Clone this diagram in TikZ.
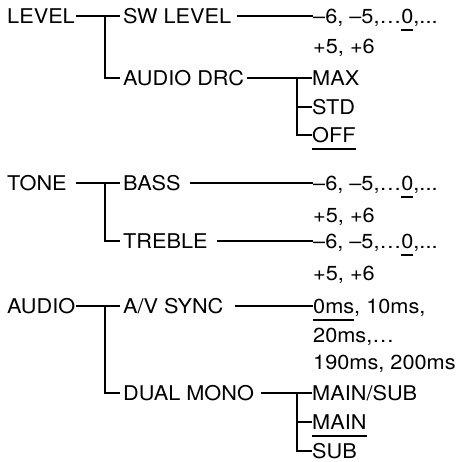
\documentclass[tikz,border=0pt]{standalone}
\usepackage{fontspec}
\setmainfont[FakeStretch=1.07]{TeX Gyre Heros}
\newcommand{\myul}[1]{\setbox0\hbox{#1}\rlap{\rule[-7.5pt]{\wd0}{1.5pt}}\box0}
\tikzset{
  lbl/.style={anchor=west, inner xsep=0pt, inner ysep=0pt, text height=14.6pt, text depth=0pt,
              font=\fontsize{20.3}{24}\selectfont},
  rootlbl/.style={lbl, text width=69pt},
  link/.style={line width=1.6pt},
}
\begin{document}
\begin{tikzpicture}[x=1pt,y=-1pt]
\useasboundingbox (0,0) rectangle (462,462);
% ---- LEVEL
\node[rootlbl] (level) at (7,16) {LEVEL};
\node[lbl] (sw) at (123,16) {SW LEVEL};
\node[lbl] (drc) at (123,78) {AUDIO DRC};
\node[lbl] (v1) at (313,16) {–6, –5,…\myul{0},...};
\node[lbl] (v1b) at (313,46) {+5, +6};
\node[lbl] (max) at (312,78) {MAX};
\node[lbl] (std) at (312,107) {STD};
\node[lbl] (off) at (312,135) {\myul{OFF}};
\coordinate (j1) at (105,16);
\coordinate (j2) at (297,78);
\draw[link] (level.east) -- ([xshift=-3pt]sw.west);
\draw[link] (j1) |- ([xshift=-3pt]drc.west);
\draw[link] ([xshift=6pt]sw.east) -- (v1.west);
\draw[link] ([xshift=3pt]drc.east) -- (max.west);
\draw[link] (j2) |- (off.west);
\draw[link] (j2 |- std.west) -- (std.west);
% ---- TONE
\node[rootlbl] (tone) at (7,183) {TONE};
\node[lbl] (bass) at (123,183) {BASS};
\node[lbl] (treble) at (123,241) {TREBLE};
\node[lbl] (v2) at (313,183) {–6, –5,…\myul{0},...};
\node[lbl] (v2b) at (313,215) {+5, +6};
\node[lbl] (v3) at (313,241) {–6, –5,…\myul{0},...};
\node[lbl] (v3b) at (313,273) {+5, +6};
\coordinate (j3) at (105,183);
\draw[link] (tone.east) -- ([xshift=-3pt]bass.west);
\draw[link] (j3) |- ([xshift=-3pt]treble.west);
\draw[link] ([xshift=9pt]bass.east) -- (v2.west);
\draw[link] ([xshift=9pt]treble.east) -- (v3.west);
% ---- AUDIO
\node[rootlbl] (audio) at (7,306) {AUDIO};
\node[lbl] (avs) at (123,306) {A/V SYNC};
\node[lbl] (dm) at (123,393) {DUAL MONO};
\node[lbl] (v4) at (313,306) {\myul{0ms}, 10ms,};
\node[lbl] (v4b) at (313,335) {20ms,…};
\node[lbl] (v4c) at (313,362) {190ms, 200ms};
\node[lbl] (ms) at (312,393) {MAIN/SUB};
\node[lbl] (mn) at (312,422) {\myul{MAIN}};
\node[lbl] (sb) at (312,451) {SUB};
\coordinate (j4) at (105,306);
\coordinate (j5) at (297,393);
\draw[link] (audio.east) -- ([xshift=-3pt]avs.west);
\draw[link] (j4) |- ([xshift=-3pt]dm.west);
\draw[link] ([xshift=11pt]avs.east) -- (v4.west);
\draw[link] ([xshift=7pt]dm.east) -- (ms.west);
\draw[link] (j5) |- (sb.west);
\draw[link] (j5 |- mn.west) -- (mn.west);
\end{tikzpicture}
\end{document}
